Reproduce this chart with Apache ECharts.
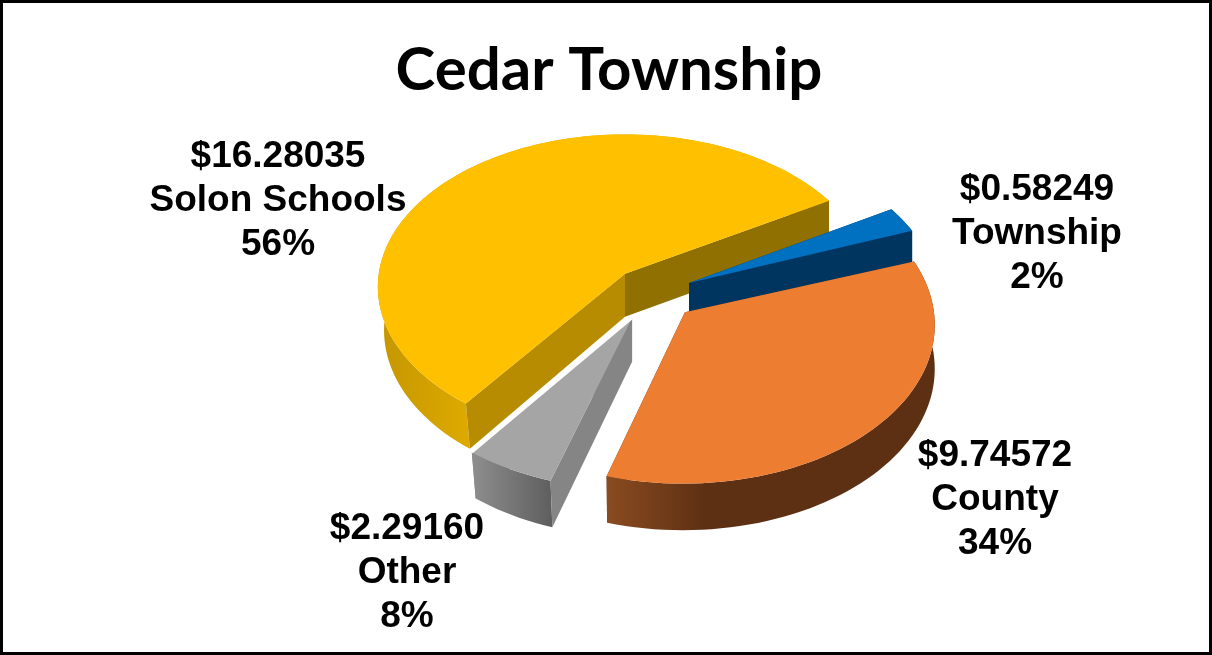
<!DOCTYPE html>
<html><head><meta charset="utf-8">
<script src="https://cdn.jsdelivr.net/npm/echarts@6/dist/echarts.min.js"></script>
<style>html,body{margin:0;padding:0;background:#fff}#c{width:1212px;height:655px}</style>
</head><body><div id="c"></div>
<script>
// Data, clockwise from the top-left slice
const categories = ['Solon Schools', 'Township', 'County', 'Other'];
const values = [16.28035, 0.58249, 9.74572, 2.29160];
const titleText = 'Cedar Township';

// Perspective ground plane
const CX = 625, CY = 272, RX = 246, RY = 151, K = 0.0857, DEPTH = 43, CONVERGE = 0.975;
const START = 127;
const view = {
  'Solon Schools': {apex:[0,0.012], tweak:0, shift:0, rank:1, scale:1, sag:0, label:[278,201],
    top:'#FFC000', wallA:'#B88C00', wallB:'#8F7000',
    outer:[[0,'#C49600'],[0.2,'#DEAA00'],[1,'#DEAA00']]},
  'Township': {apex:[0.2586,0.072], tweak:2.4, shift:0, rank:2, scale:1, sag:0, label:[1037,234],
    top:'#0070C0', wallA:'#003560', wallB:'#003560',
    outer:[[0,'#003560'],[1,'#003560']]},
  'County': {apex:[0.238,0.26], tweak:5.6, shift:1.3, rank:4, scale:1, sag:0.022, label:[995,500],
    top:'#ED7D31', wallA:'#5E3013', wallB:'#5E3013',
    outer:[[0,'#8A4B20'],[0.3,'#5E3013'],[1,'#5E3013']]},
  'Other': {apex:[0.028,0.297], tweak:-9.2, shift:1.2, rank:3, scale:0.985, sag:0, label:[407,573],
    top:'#A5A5A5', wallA:'#858585', wallB:'#858585',
    outer:[[0,'#8E8E8E'],[1,'#5E5E5E']]}
};

const total = values.reduce((a,b)=>a+b,0);
function P(u,v,h){
  const d=1-K*v, x=CX+RX*u/d, y=CY+RY*v/d;
  if(!h) return [x,y];
  return [x<CX ? CX+(x-CX)*CONVERGE : x, y+h*(1+0.7*(1/d-1))];
}

let acc = START;
const spans = values.map((val,i)=>{
  const s = view[categories[i]];
  const sweep = val/total*360 + s.tweak;
  const a0 = acc + s.shift; acc += sweep;
  return [a0, a0+sweep];
});

function renderItem(params, api){
  const i = params.dataIndex, name = categories[i], s = view[name];
  const val = api.value(0), span = spans[i];
  const arc=[]; const n=Math.max(6,Math.round((span[1]-span[0])/2));
  for(let j=0;j<=n;j++){
    const t=(span[0]+(span[1]-span[0])*j/n)*Math.PI/180;
    const r=s.scale*(1-s.sag*Math.sin(Math.PI*j/n));
    arc.push([s.apex[0]+r*Math.cos(t), s.apex[1]+r*Math.sin(t)]);
  }
  const up=arc.map(p=>P(p[0],p[1],0)), low=arc.map(p=>P(p[0],p[1],DEPTH));
  const a0=P(s.apex[0],s.apex[1],0), a1=P(s.apex[0],s.apex[1],DEPTH);
  const z=s.rank*10;
  const poly=(pts,fill,dz)=>({type:'polygon',shape:{points:pts},style:{fill:fill,stroke:null},z2:z+dz});
  // Walls facing away from the viewer go under the rim wall, the others over it
  const startFront=Math.sin((span[0]-90)*Math.PI/180)>0;
  const endFront=Math.sin((span[1]+90)*Math.PI/180)>0;
  const kids=[
    poly(up.concat(low.slice().reverse()),{type:'linear',x:0,y:0,x2:1,y2:0,colorStops:s.outer.map(c=>({offset:c[0],color:c[1]}))},2),
    poly([a0,up[n],low[n],a1],s.wallB,endFront?3:0),
    poly([a0,up[0],low[0],a1],s.wallA,startFront?4:1),
    poly([a0].concat(up),s.top,5)
  ];
  if(name==='Other'){
    kids.push({type:'polyline',shape:{points:[a0,up[n]]},style:{stroke:'#fff',lineWidth:2.5,fill:null},z2:z+6});
  }
  kids.push({type:'text',x:s.label[0],y:s.label[1],z2:200,style:{
    text:'$'+val.toFixed(5)+'\n'+name+'\n'+Math.round(val/total*100)+'%',
    fill:'#000',font:'bold 37px "Liberation Sans"',align:'center',verticalAlign:'middle',lineHeight:44}});
  return {type:'group',children:kids};
}

const chart = echarts.init(document.getElementById('c'),null,{renderer:'canvas'});
chart.setOption({
  animation:false,
  backgroundColor:'#fff',
  title:{text:titleText,left:604,top:36,textAlign:'center',
    textStyle:{fontFamily:'Lato',fontWeight:'bold',fontSize:60,color:'#000'}},
  graphic:[{type:'rect',shape:{x:1.5,y:1.5,width:1209,height:652},style:{fill:null,stroke:'#000',lineWidth:3},silent:true}],
  series:[{type:'custom',coordinateSystem:'none',silent:true,renderItem:renderItem,
    data:values.map(v=>[v])}]
});
</script></body></html>
